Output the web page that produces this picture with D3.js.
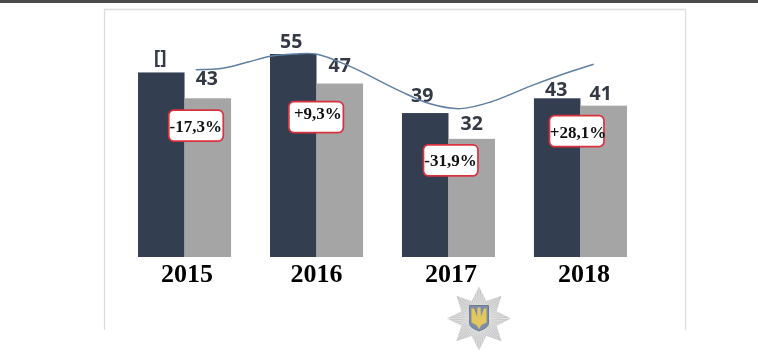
<!DOCTYPE html>
<html><head><meta charset="utf-8">
<script src="https://cdn.jsdelivr.net/npm/d3@7/dist/d3.min.js"></script>
<style>html,body{margin:0;padding:0;background:#fff}svg{display:block;filter:blur(0.35px)}</style>
</head><body><svg id="c" width="758" height="362"></svg>
<script>
const years = ["2015","2016","2017","2018"];
const seriesDark = [50,55,39,43];
const seriesGray = [43,47,32,41];
const labelsDark = ["[]","55","39","43"];
const labelsGray = ["43","47","32","41"];
const changeLabels = ["-17,3%","+9,3%","-31,9%","+28,1%"];
const changeYearPos = [2015.085,2015.995,2017.015,2017.97];
const changeLevels = [35.6,37.9,26.2,34.1];
const lineYearPos = [2015.085,2015.3,2015.49,2015.65,2015.83,2015.995,2016.25,2016.63,2016.86,2017.09,2017.32,2017.62,2017.85,2018.1];
const lineValues = [50.7,51.2,52.9,54.4,55,55,51.7,45,41.5,40.2,42,46.3,49.3,52.2];

const svg = d3.select("#c");
const BASE = 257;
const y = d3.scaleLinear().domain([0,55]).range([BASE,54]);
const x = d3.scaleBand().domain(years).range([118.5,646.5]).paddingInner(0.295).paddingOuter(0.148);
const bw = x.bandwidth()/2;
const xPos = d3.scaleLinear().domain([2015,2018]).range([x("2015")+bw, x("2018")+bw]);

// frame
svg.append("rect").attr("x",0).attr("y",0).attr("width",758).attr("height",3).attr("fill","#4a4a4a");
svg.append("path").attr("d","M104.5,330V9.5H685.5V330").attr("fill","none").attr("stroke","#dcdcdc").attr("stroke-width",1.3);

// bars
svg.append("g").selectAll("rect").data(years).join("rect")
  .attr("x",d=>x(d)).attr("width",bw)
  .attr("y",(d,i)=>y(seriesDark[i])).attr("height",(d,i)=>BASE-y(seriesDark[i]))
  .attr("fill","#333f50");
svg.append("g").selectAll("rect").data(years).join("rect")
  .attr("x",d=>x(d)+bw).attr("width",bw)
  .attr("y",(d,i)=>y(seriesGray[i])).attr("height",(d,i)=>BASE-y(seriesGray[i]))
  .attr("fill","#a5a5a5");

// value labels (hand-placed in the reference, hence per-label nudges)
const vf = "'Open Sans',sans-serif";
const darkDx = [-1,-2,-3,-1], darkDy = [8,6,11,2];
const grayDx = [-1,0,0,-3], grayDy = [13,12,9,6];
svg.append("g").selectAll("text").data(years).join("text")
  .attr("x",(d,i)=>x(d)+bw/2+darkDx[i]).attr("y",(d,i)=>y(seriesDark[i])-darkDy[i])
  .attr("text-anchor","middle").attr("font-family",vf).attr("font-weight",700).attr("font-size",19.5)
  .attr("fill","#333a45").text((d,i)=>labelsDark[i]);
svg.append("g").selectAll("text").data(years).join("text")
  .attr("x",(d,i)=>x(d)+bw*1.5+grayDx[i]).attr("y",(d,i)=>y(seriesGray[i])-grayDy[i])
  .attr("text-anchor","middle").attr("font-family",vf).attr("font-weight",700).attr("font-size",19.5)
  .attr("fill","#333a45").text((d,i)=>labelsGray[i]);

// trend line
const line = d3.line().x(d=>xPos(d[0])).y(d=>y(d[1])).curve(d3.curveCatmullRom);
svg.append("path").attr("d",line(lineYearPos.map((p,i)=>[p,lineValues[i]])))
  .attr("fill","none").attr("stroke","#5f7fa3").attr("stroke-width",1.5);

// year labels
const yearDx = [2.5,0,2.5,3.5];
svg.append("g").selectAll("text").data(years).join("text")
  .attr("x",(d,i)=>x(d)+bw+yearDx[i]).attr("y",282)
  .attr("text-anchor","middle").attr("font-family","'Liberation Serif',serif").attr("font-weight",700).attr("font-size",26)
  .attr("fill","#000").text(d=>d);

// change callouts
const textDx = [0,2,0,1.5], textDy = [6,2,6,7];
const callouts = svg.append("g").selectAll("g").data(changeLabels).join("g")
  .attr("transform",(d,i)=>`translate(${xPos(changeYearPos[i])},${y(changeLevels[i])})`);
callouts.append("rect").attr("x",-27).attr("y",-15.5).attr("width",54.5).attr("height",31).attr("rx",5)
  .attr("fill","#fff").attr("stroke","#d9323e").attr("stroke-width",1.7);
callouts.append("text").attr("text-anchor","middle")
  .attr("x",(d,i)=>textDx[i]).attr("y",(d,i)=>textDy[i])
  .attr("font-family","'Liberation Serif',serif").attr("font-weight",700).attr("font-size",17)
  .attr("fill","#111").text(d=>d);

// emblem
const em = svg.append("g").attr("transform","translate(479,318.5)");
const star = d3.range(16).map(k=>{
  const a = k*Math.PI/8 - Math.PI/2, r = k%2==0 ? 32 : 19;
  return [r*Math.cos(a), r*Math.sin(a)];
});
const starPath = d3.line().curve(d3.curveLinearClosed)(star);
em.append("clipPath").attr("id","st").append("path").attr("d",starPath);
em.append("path").attr("d",starPath).attr("fill","#c9cacb");
em.append("g").attr("clip-path","url(#st)").selectAll("line").data(d3.range(0,60).map(k=>k*6*Math.PI/180)).join("line")
  .attr("x1",a=>8*Math.cos(a)).attr("y1",a=>8*Math.sin(a))
  .attr("x2",a=>34*Math.cos(a)).attr("y2",a=>34*Math.sin(a))
  .attr("stroke","#e9eaea").attr("stroke-width",0.7);
em.append("path").attr("d","M-9.5,-13H9.5V5Q9.5,9 0,12.5Q-9.5,9 -9.5,5Z").attr("fill","#7f8ea8").attr("stroke","#5f6e88").attr("stroke-width",0.8);
em.append("path").attr("d","M-1.5,-11H1.5L2,-2L5,-10H7.5V4L2.5,6.5L0,10.5L-2.5,6.5L-7.5,4V-10H-5L-2,-2Z").attr("fill","#e3c85e");
</script></body></html>
